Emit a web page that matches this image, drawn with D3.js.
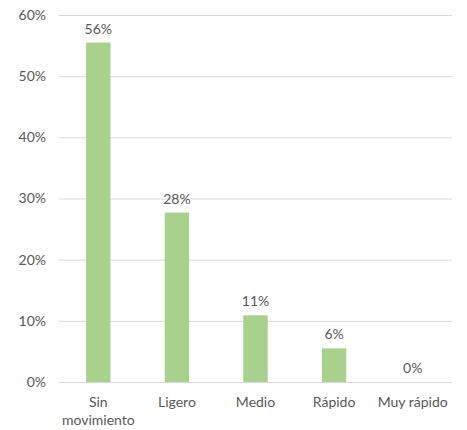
<!DOCTYPE html>
<html><head><meta charset="utf-8">
<script src="https://cdn.jsdelivr.net/npm/d3@7"></script>
<style>body{margin:0;background:#fff}text{font-family:Lato,"Open Sans",sans-serif;fill:#595959}</style>
</head><body><svg width="467" height="430"></svg>
<script>
const categories = [["Sin","movimiento"],["Ligero"],["Medio"],["Rápido"],["Muy rápido"]];
const values = [0.555, 0.277, 0.109, 0.055, 0];
const labels = ["56%","28%","11%","6%","0%"];
const ticks = [0,0.1,0.2,0.3,0.4,0.5,0.6];

const svg = d3.select("svg");
const x = d3.scaleBand().domain(d3.range(5)).range([59,452]).paddingInner(0.69).paddingOuter(0.345);
const y = d3.scaleLinear().domain([0,0.6]).range([382,15]);

const yAxis = d3.axisLeft(y).tickValues(ticks).tickFormat(d3.format(".0%")).tickSize(-(452-59)).tickPadding(13);
const g = svg.append("g").attr("transform","translate(59,0)").call(yAxis);
g.select(".domain").remove();
g.selectAll("line").attr("stroke","#d9d9d9").attr("stroke-width",1);
g.selectAll("text").style("font-size","14px").attr("fill","#595959");

svg.selectAll("rect.bar").data(values).join("rect").attr("class","bar")
  .attr("x",(d,i)=>x(i)).attr("width",x.bandwidth())
  .attr("y",d=>y(d)).attr("height",d=>y(0)-y(d)).attr("fill","#a9d18e");

svg.selectAll("text.lab").data(values).join("text").attr("class","lab")
  .attr("x",(d,i)=>x(i)+x.bandwidth()/2).attr("y",d=>y(d)-9)
  .attr("text-anchor","middle").style("font-size","14px").text((d,i)=>labels[i]);

const cat = svg.selectAll("text.cat").data(categories).join("text").attr("class","cat")
  .attr("text-anchor","middle").style("font-size","14px");
cat.each(function(d,i){
  const t=d3.select(this);
  d.forEach((line,j)=>t.append("tspan").attr("x",x(i)+x.bandwidth()/2).attr("y",407+j*18).text(line));
});
</script></body></html>
